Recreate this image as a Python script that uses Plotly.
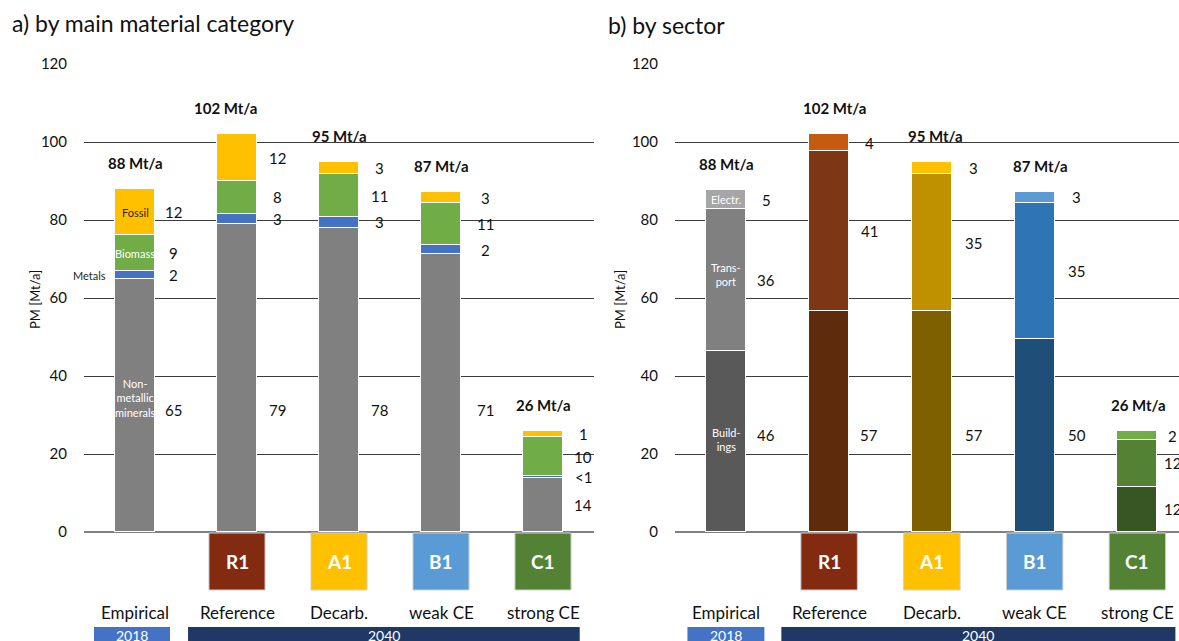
import plotly.graph_objects as go

# ---- data ---------------------------------------------------------------
scenarios = ["Empirical", "Reference", "Decarb.", "weak CE", "strong CE"]
codes = ["", "R1", "A1", "B1", "C1"]
code_colors = ["", "#832B10", "#FFC000", "#5B9BD5", "#548235"]

# a) by main material category [Mt/a]
nonmetallic = [64.8, 79.0, 78.0, 71.2, 13.9]
metals = [2.0, 2.6, 2.8, 2.3, 0.4]
biomass = [9.3, 8.4, 10.9, 10.8, 10.1]
fossil = [11.9, 12.0, 3.3, 2.9, 1.4]

# b) by sector [Mt/a]
buildings = [46.3, 56.6, 56.6, 49.6, 11.6]
transport = [36.4, 41.0, 35.2, 34.8, 12.0]
electr = [5.0, 4.4, 3.0, 2.8, 2.2]

build_colors = ["#595959", "#5E2B0C", "#7F6000", "#1F4E79", "#375623"]
trans_colors = ["#808080", "#7E3714", "#BF9000", "#2E75B6", "#548235"]
elec_colors = ["#A6A6A6", "#C55A11", "#FFC000", "#5B9BD5", "#70AD47"]

years = ["2018", "2040"]
y_ticks = [0, 20, 40, 60, 80, 100, 120]

# ---- layout helpers -----------------------------------------------------
W, H = 1179, 641
FONT = "Lato"
Y0_PX, Y120_PX = 532, 64          # pixel rows of the 0 and 120 gridlines


def px(x):
    return x / W


def py(y):
    return 1 - y / H


def fmt(v):
    return "<1" if v < 1 else f"{v:.0f}"


fig = go.Figure()
xs = list(range(len(scenarios)))
BAR_W = 0.39

# left panel: material categories
left_series = [
    ("Non-metallic minerals", nonmetallic, "#808080"),
    ("Metals", metals, "#4472C4"),
    ("Biomass", biomass, "#70AD47"),
    ("Fossil", fossil, "#FFC000"),
]
for name, vals, col in left_series:
    fig.add_trace(go.Bar(
        x=xs, y=vals, name=name, width=BAR_W,
        marker=dict(color=col, line=dict(color="white", width=1)),
        xaxis="x", yaxis="y", hoverinfo="skip", showlegend=False,
    ))

# right panel: sectors
right_series = [
    ("Buildings", buildings, build_colors),
    ("Transport", transport, trans_colors),
    ("Electr.", electr, elec_colors),
]
for name, vals, cols in right_series:
    fig.add_trace(go.Bar(
        x=xs, y=vals, name=name, width=BAR_W,
        marker=dict(color=cols, line=dict(color="white", width=1)),
        xaxis="x2", yaxis="y2", hoverinfo="skip", showlegend=False,
    ))

ann = []
shapes = []
TXT = "#111111"


def value_labels(series, xref, yref, bottom_cap, label_shift, total_shift):
    for i in xs:
        base = 0.0
        for k, (_, vals, _) in enumerate(series):
            v = vals[i]
            mid = base + v / 2
            if k == 0 and v >= 30:
                mid = bottom_cap
            ann.append(dict(x=i, y=mid, xref=xref, yref=yref, text=fmt(v),
                            showarrow=False, xshift=label_shift[i],
                            font=dict(family=FONT, size=15, color=TXT)))
            base += v
        ann.append(dict(x=i, y=base, xref=xref, yref=yref,
                        text=f"<b>{base:.0f} Mt/a</b>", showarrow=False,
                        yanchor="bottom", yshift=15, xshift=total_shift[i],
                        font=dict(family=FONT, size=15, color=TXT)))


value_labels(left_series, "x", "y", 31.3, [38, 40, 40, 44, 40], [0, -12, 0, 0, 0])
value_labels(right_series, "x2", "y2", 25.0, [40, 40, 42, 42, 35], [0, 5, 4, 6, 1])

# in-bar category names for the empirical bars
inner = [
    ("x", "y", nonmetallic[0] + metals[0] + biomass[0] + fossil[0] / 2, "Fossil", "#262626", 0, "center"),
    ("x", "y", nonmetallic[0] + metals[0] + biomass[0] / 2, "Biomass", "white", 0, "center"),
    ("x", "y", nonmetallic[0] + metals[0] / 2, "Metals", "#262626", -27, "right"),
    ("x", "y", 34.4, "Non-<br>metallic<br>minerals", "white", 0, "center"),
    ("x2", "y2", buildings[0] + transport[0] + electr[0] / 2, "Electr.", "white", 0, "center"),
    ("x2", "y2", buildings[0] + transport[0] / 2 + 1.5, "Trans-<br>port", "white", 0, "center"),
    ("x2", "y2", 23.6, "Build-<br>ings", "white", 0, "center"),
]
for xr, yr, y, t, c, sh, anc in inner:
    ann.append(dict(x=0, y=y, xref=xr, yref=yr, text=t, showarrow=False,
                    xshift=sh, xanchor=anc,
                    font=dict(family=FONT, size=11, color=c)))

# scenario boxes, category names and year bands under each panel
for xr, yr_spans in (("x", [(-0.402, 0.343), (0.52, 4.36)]),
                     ("x2", [(-0.379, 0.37), (0.535, 4.37)])):
    for i in xs:
        if codes[i]:
            shapes.append(dict(type="rect", xref=xr, yref="paper",
                               x0=i - 0.275, x1=i + 0.275, y0=py(590), y1=py(533),
                               fillcolor=code_colors[i],
                               line=dict(color="#d0d0d0", width=1)))
            ann.append(dict(x=i, y=py(561), xref=xr, yref="paper",
                            text=f"<b>{codes[i]}</b>", showarrow=False,
                            yanchor="middle",
                            font=dict(family=FONT, size=19, color="white")))
        ann.append(dict(x=i, y=py(612), xref=xr, yref="paper", text=scenarios[i],
                        showarrow=False, yanchor="middle",
                        font=dict(family=FONT, size=17, color=TXT)))
    for (x0, x1), yr_txt, col in zip(yr_spans, years, ["#4472C4", "#203864"]):
        shapes.append(dict(type="rect", xref=xr, yref="paper", x0=x0, x1=x1,
                           y0=0, y1=py(627), fillcolor=col,
                           line=dict(width=0)))
        ann.append(dict(x=(x0 + x1) / 2, y=py(635.5), xref=xr, yref="paper",
                        text=yr_txt, showarrow=False, yanchor="middle",
                        font=dict(family=FONT, size=14, color="white")))

# panel titles and axis titles
ann += [
    dict(x=px(10), y=py(23), xref="paper", yref="paper", xanchor="left",
         yanchor="middle", text="a) by main material category", showarrow=False,
         font=dict(family=FONT, size=23, color=TXT)),
    dict(x=px(606), y=py(25), xref="paper", yref="paper", xanchor="left",
         yanchor="middle", text="b) by sector", showarrow=False,
         font=dict(family=FONT, size=23, color=TXT)),
    dict(x=px(25), y=py(300), xref="paper", yref="paper", textangle=-90,
         yanchor="middle", text="PM [Mt/a]", showarrow=False,
         font=dict(family=FONT, size=13, color=TXT)),
    dict(x=px(620), y=py(300), xref="paper", yref="paper", textangle=-90,
         yanchor="middle", text="PM [Mt/a]", showarrow=False,
         font=dict(family=FONT, size=13, color=TXT)),
]

y_dom = [py(Y0_PX), py(Y120_PX)]
yaxis_common = dict(range=[0, 120], tickvals=y_ticks, showgrid=True,
                    gridcolor="#3c3c3c", gridwidth=1, zeroline=True,
                    zerolinecolor="#808080", zerolinewidth=1.5,
                    showline=False, ticks="", ticklabelstandoff=16,
                    tickfont=dict(family=FONT, size=15, color=TXT),
                    domain=y_dom, fixedrange=True, automargin=False)
xaxis_common = dict(showticklabels=False, showgrid=False, zeroline=False,
                    showline=False, ticks="", fixedrange=True, automargin=False)

fig.update_layout(
    width=W, height=H, margin=dict(l=0, r=0, t=0, b=0, autoexpand=False),
    paper_bgcolor="white", plot_bgcolor="white",
    barmode="stack", bargap=0,
    xaxis=dict(domain=[px(84), px(594)], range=[-0.5, 4.5], anchor="y", **xaxis_common),
    xaxis2=dict(domain=[px(675), 1.0], range=[-0.5, 4.405], anchor="y2", **xaxis_common),
    yaxis=dict(anchor="x", **yaxis_common),
    yaxis2=dict(anchor="x2", **yaxis_common),
    annotations=ann, shapes=shapes,
    font=dict(family=FONT),
)

fig.write_html("out.html")
